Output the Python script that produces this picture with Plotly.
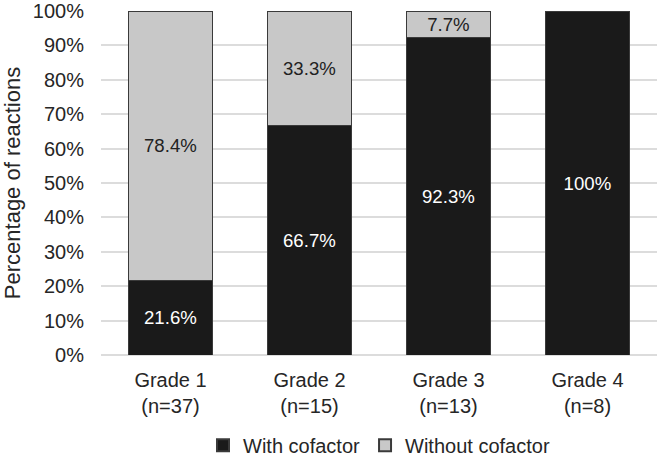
import plotly.graph_objects as go

categories = ["Grade 1<br>(n=37)", "Grade 2<br>(n=15)", "Grade 3<br>(n=13)", "Grade 4<br>(n=8)"]
with_cofactor = [21.6, 66.7, 92.3, 100]
without_cofactor = [78.4, 33.3, 7.7, 0]
with_labels = ["21.6%", "66.7%", "92.3%", "100%"]
without_labels = ["78.4%", "33.3%", "7.7%", ""]
y_ticks = list(range(0, 101, 10))
y_tick_labels = [f"{v}%" for v in y_ticks]

FONT = "Liberation Sans, Arial, sans-serif"
FS = 20

fig = go.Figure()
fig.add_trace(go.Bar(
    x=categories, y=with_cofactor, name="With cofactor",
    marker=dict(color="#1a1a1a", line=dict(color="#3a3a3a", width=1)),
    text=with_labels, textposition="inside", insidetextanchor="middle",
    textfont=dict(color="white", size=FS, family=FONT),
    hoverinfo="skip",
))
fig.add_trace(go.Bar(
    x=categories, y=without_cofactor, name="Without cofactor",
    marker=dict(color="#c8c8c8", line=dict(color="#3a3a3a", width=1)),
    text=without_labels, textposition="inside", insidetextanchor="middle",
    textfont=dict(color="#222222", size=FS, family=FONT),
    hoverinfo="skip",
))

fig.update_layout(
    barmode="stack",
    bargap=0.4,
    width=659, height=461,
    margin=dict(l=101, r=2, t=11, b=106, autoexpand=False),
    plot_bgcolor="white", paper_bgcolor="white",
    font=dict(family=FONT, size=FS, color="#262626"),
    uniformtext=dict(mode="show", minsize=10),
    legend=dict(orientation="h", x=0.5, xanchor="center", y=-0.262, yanchor="middle",
                font=dict(size=FS, color="#262626"), traceorder="normal",
                itemwidth=30, itemsizing="constant", tracegroupgap=0),
    xaxis=dict(showgrid=False, showline=False, ticks="", tickfont=dict(size=FS),
               ticklabelstandoff=11, automargin=False),
    yaxis=dict(range=[0, 100], tickvals=y_ticks, ticktext=y_tick_labels,
               showgrid=True, gridcolor="#dcdcdc", gridwidth=1.5,
               zeroline=True, zerolinecolor="#dcdcdc", zerolinewidth=1.5,
               showline=False, ticks="", tickfont=dict(size=FS),
               ticklabelstandoff=16, automargin=False,
               title=dict(text="Percentage of reactions", font=dict(size=22), standoff=6)),
)

fig.write_html("out.html")
